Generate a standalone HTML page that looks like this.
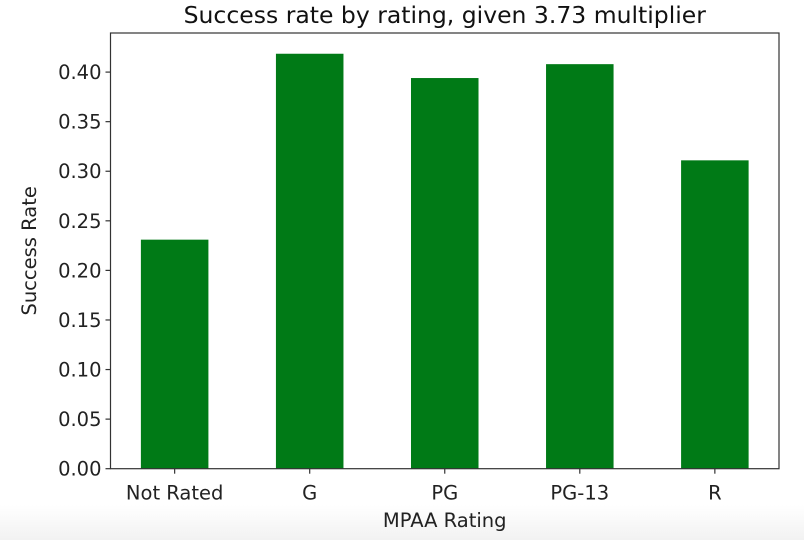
<!DOCTYPE html>
<html><head><meta charset="utf-8"><style>
body{margin:0;background:#fff;}
svg{display:block;font-family:"DejaVu Sans","Liberation Sans",sans-serif;}
</style></head><body>
<svg id="chart" width="804" height="540">
<defs><linearGradient id="fade" x1="0" y1="0" x2="0" y2="1"><stop offset="0" stop-color="#fff"/><stop offset="1" stop-color="#f2f2f2"/></linearGradient></defs>
<rect x="0" y="505" width="804" height="35" fill="url(#fade)"/>
<g id="plot"></g>
</svg>
<script>
const categories=["Not Rated","G","PG","PG-13","R"];
const values=[0.231,0.4185,0.394,0.408,0.311];
const yTicks=[0,0.05,0.1,0.15,0.2,0.25,0.3,0.35,0.4];
const yTickLabels=["0.00","0.05","0.10","0.15","0.20","0.25","0.30","0.35","0.40"];
const L=110.5,R=779,T=33,B=468.7;
const ymax=Math.max(...values)*1.05;
const xmin=-0.475,xmax=categories.length-1+0.475;
const x=v=>L+(v-xmin)/(xmax-xmin)*(R-L);
const y=v=>B-v/ymax*(B-T);
const ns="http://www.w3.org/2000/svg";
const g=document.getElementById('plot');
function mk(t,a,txt){const e=document.createElementNS(ns,t);for(const k in a)e.setAttribute(k,a[k]);if(txt!==undefined)e.textContent=txt;g.appendChild(e);return e;}
values.forEach((v,i)=>{
 const r=mk('rect',{x:x(i-0.25),y:y(v),width:x(i+0.25)-x(i-0.25),height:B-y(v),fill:'#007a16'});
 
 
 const tk=mk('line',{x1:x(i),x2:x(i),y1:B,y2:B+5,stroke:'#333','stroke-width':1.2});
 
 
 const lb=mk('text',{x:x(i),y:B+31,'text-anchor':'middle','font-size':19.5,fill:'#222'},categories[i]);
 
 
});
yTicks.forEach((v,i)=>{
 const tk=mk('line',{x1:L-5,x2:L,y1:y(v),y2:y(v),stroke:'#333','stroke-width':1.2});
 
 
 const lb=mk('text',{x:L-9,y:y(v)+7,'text-anchor':'end','font-size':19.5,fill:'#222'},yTickLabels[i]);
 
 
});
const fr=mk('rect',{x:L,y:T,width:R-L,height:B-T,fill:'none',stroke:'#333','stroke-width':1.2});


const ti=mk('text',{x:(L+R)/2,y:23,'text-anchor':'middle','font-size':23.5,fill:'#111'},'Success rate by rating, given 3.73 multiplier');


const xt=mk('text',{x:(L+R)/2,y:527,'text-anchor':'middle','font-size':19.5,fill:'#222'},'MPAA Rating');


const yt=mk('text',{x:0,y:0,'text-anchor':'middle','font-size':19.5,fill:'#222',transform:'translate(36,'+((T+B)/2)+') rotate(-90)'},'Success Rate');


</script>
</body></html>
